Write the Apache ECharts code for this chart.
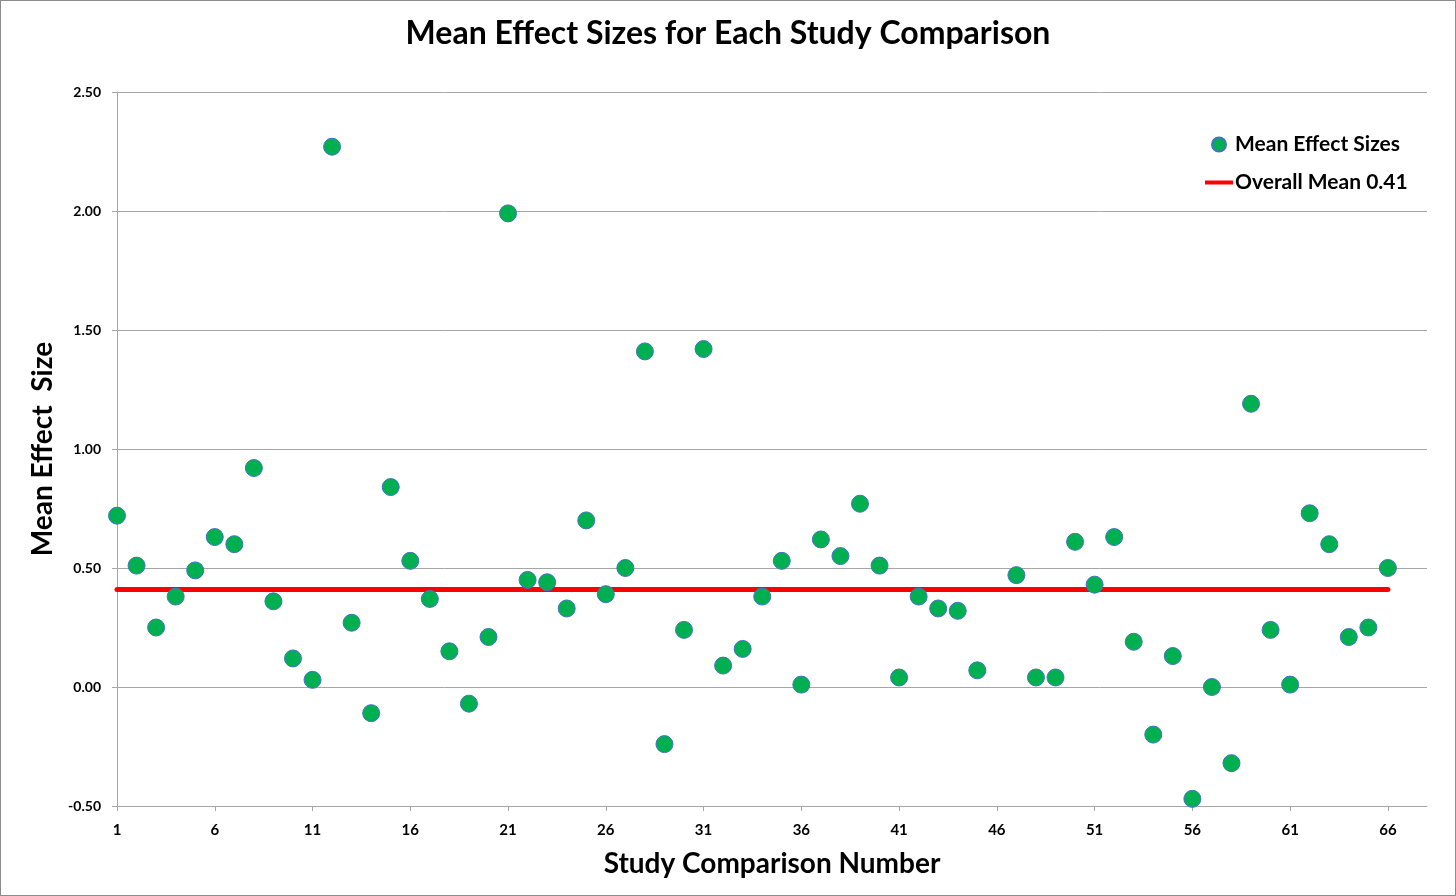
<!DOCTYPE html>
<html>
<head>
<meta charset="utf-8">
<title>Mean Effect Sizes for Each Study Comparison</title>
<script src="https://cdn.jsdelivr.net/npm/echarts@6/dist/echarts.min.js"></script>
<style>
  html, body { margin: 0; padding: 0; background: #fff; }
  #chart { width: 1454px; height: 894px; border: 1px solid #8c8c8c; }
</style>
</head>
<body>
<div id="chart"></div>
<script>
// study comparison numbers 1..66, study 46 has no point in the picture
const studyNumbers = [];
for (let i = 1; i <= 66; i++) studyNumbers.push(i);

const effectSizes = [
  0.72, 0.51, 0.25, 0.38, 0.49, 0.63, 0.60, 0.92, 0.36, 0.12,
  0.03, 2.27, 0.27, -0.11, 0.84, 0.53, 0.37, 0.15, -0.07, 0.21,
  1.99, 0.45, 0.44, 0.33, 0.70, 0.39, 0.50, 1.41, -0.24, 0.24,
  1.42, 0.09, 0.16, 0.38, 0.53, 0.01, 0.62, 0.55, 0.77, 0.51,
  0.04, 0.38, 0.33, 0.32, 0.07, null, 0.47, 0.04, 0.04, 0.61,
  0.43, 0.63, 0.19, -0.20, 0.13, -0.47, 0.00, -0.32, 1.19, 0.24,
  0.01, 0.73, 0.60, 0.21, 0.25, 0.50
];

const overallMean = 0.41;
const xTicks = [1, 6, 11, 16, 21, 26, 31, 36, 41, 46, 51, 56, 61, 66];

const scatterData = studyNumbers
  .map((n, i) => [n, effectSizes[i]])
  .filter(d => d[1] !== null);
const meanLine = [[studyNumbers[0], overallMean], [studyNumbers[studyNumbers.length - 1], overallMean]];

const font = 'Lato, "Open Sans", sans-serif';
const chart = echarts.init(document.getElementById('chart'));

chart.setOption({
  animation: false,
  title: {
    text: 'Mean Effect Sizes for Each Study Comparison',
    left: 'center',
    top: 12,
    textStyle: { fontFamily: font, fontSize: 32, fontWeight: 'bold', color: '#000' }
  },
  legend: {
    orient: 'vertical',
    left: 1204,
    top: 133,
    padding: 0,
    itemWidth: 28,
    itemHeight: 14,
    itemGap: 17,
    textStyle: { fontFamily: font, fontSize: 21, fontWeight: 'bold', color: '#000', padding: [0, 0, 0, -3] },
    data: [
      { name: 'Mean Effect Sizes', icon: 'circle' },
      { name: 'Overall Mean 0.41', icon: 'path://M0,0 L28,0 L28,4 L0,4 Z' }
    ]
  },
  grid: { left: 116, right: 28, top: 91, bottom: 89 },
  xAxis: {
    type: 'value',
    min: 1,
    max: 68,
    interval: 5,
    name: 'Study Comparison Number',
    nameLocation: 'middle',
    nameGap: 44,
    nameTextStyle: { fontFamily: font, fontSize: 28, fontWeight: 'bold', color: '#000' },
    axisLine: { onZero: false, lineStyle: { color: '#a6a6a6', width: 1 } },
    axisTick: { show: true, length: 5, lineStyle: { color: '#a6a6a6' }, customValues: xTicks },
    axisLabel: { fontFamily: font, fontSize: 15, fontWeight: 'bold', color: '#000', margin: 17, customValues: xTicks },
    splitLine: { show: false }
  },
  yAxis: {
    type: 'value',
    min: -0.5,
    max: 2.5,
    interval: 0.5,
    name: 'Mean Effect  Size',
    nameLocation: 'middle',
    nameGap: 60,
    nameTextStyle: { fontFamily: font, fontSize: 28, fontWeight: 'bold', color: '#000' },
    axisLine: { show: true, lineStyle: { color: '#a6a6a6', width: 1 } },
    axisTick: { show: true, length: 5, lineStyle: { color: '#a6a6a6' } },
    axisLabel: {
      fontFamily: font, fontSize: 14, fontWeight: 'bold', color: '#000', margin: 16,
      formatter: v => v.toFixed(2)
    },
    splitLine: { show: true, lineStyle: { color: '#a6a6a6', width: 1 } }
  },
  series: [
    {
      name: 'Overall Mean 0.41',
      type: 'line',
      data: meanLine,
      symbol: 'none',
      z: 2,
      lineStyle: { color: '#ff0000', width: 5, cap: 'round' },
      itemStyle: { color: '#ff0000' }
    },
    {
      name: 'Mean Effect Sizes',
      type: 'scatter',
      data: scatterData,
      symbolSize: 17,
      z: 3,
      itemStyle: { color: '#00b050', borderColor: '#4472c4', borderWidth: 1, opacity: 1 }
    }
  ]
});
</script>
</body>
</html>
